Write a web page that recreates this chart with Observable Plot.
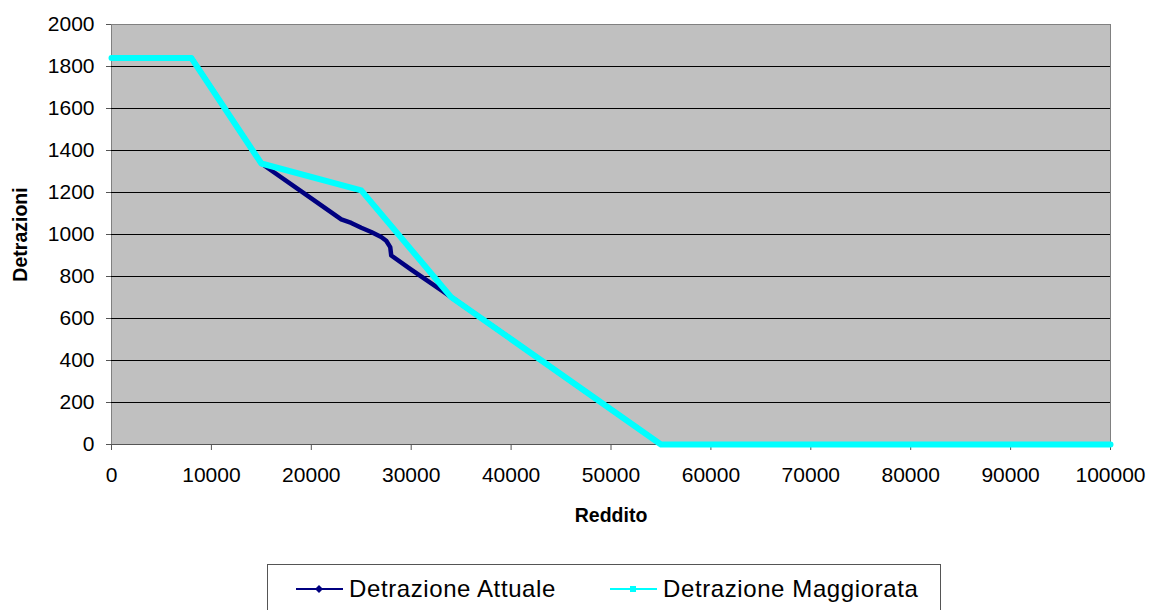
<!DOCTYPE html>
<html>
<head>
<meta charset="utf-8">
<script src="https://cdn.jsdelivr.net/npm/d3@7"></script>
<script src="https://cdn.jsdelivr.net/npm/@observablehq/plot@0.6"></script>
<style>
  body { margin: 0; background: #fff; font-family: "Liberation Sans", Arial, sans-serif; }
  #wrap { position: relative; width: 1151px; height: 610px; overflow: hidden; }
  #legend { position: absolute; left: 267px; top: 564px; width: 674px; height: 52px;
            border: 1px solid #555; box-sizing: border-box; font-size: 24px; letter-spacing: 0.6px; color: #000; }
  .item { position: absolute; top: 10px; display: flex; align-items: center; height: 28px; white-space: nowrap; }
  .item svg { margin-right: 5px; }
</style>
</head>
<body>
<div id="wrap">
  <div id="chart"></div>
  <div id="legend"></div>
</div>
<script>
// Tick values
const xTicks = [0, 10000, 20000, 30000, 40000, 50000, 60000, 70000, 80000, 90000, 100000];
const yTicks = [0, 200, 400, 600, 800, 1000, 1200, 1400, 1600, 1800, 2000];

// Series names
const seriesNames = ["Detrazione Attuale", "Detrazione Maggiorata"];

// Detrazione Attuale
const attualeX = [0, 8000, 15000, 19000, 23000, 24000, 25000, 26000, 27000, 27500, 27900, 28000, 30000, 33000, 34000, 40000, 45000, 50000, 55000, 100000];
const attualeY = [1840, 1840, 1338, 1205, 1072, 1055, 1032, 1012, 988, 970, 940, 900, 833, 735, 702, 502, 334, 167, 0, 0];

// Detrazione Maggiorata
const maggiorataX = [0, 8000, 15000, 25000, 34000, 55000, 100000];
const maggiorataY = [1840, 1840, 1338, 1210, 702, 0, 0];

const attuale = attualeX.map((x, i) => ({x, y: attualeY[i]}));
const maggiorata = maggiorataX.map((x, i) => ({x, y: maggiorataY[i]}));

const navy = "#000080", cyan = "#00FFFF";

const chart = Plot.plot({
  width: 1151,
  height: 550,
  marginLeft: 111,
  marginRight: 41,
  marginTop: 24,
  marginBottom: 106,
  style: { fontFamily: "'Liberation Sans', Arial, sans-serif", fontSize: "21px", color: "#000", background: "#fff" },
  x: { domain: [0, 100000] },
  y: { domain: [0, 2000] },
  marks: [
    Plot.frame({ fill: "#C0C0C0", stroke: "#808080" }),
    Plot.ruleY(yTicks.filter(d => d > 0 && d < 2000), { stroke: "#000", strokeWidth: 1 }),
    Plot.ruleY([0], { stroke: "#555", strokeWidth: 1 }),
    Plot.axisX({ ticks: xTicks, tickSize: 6, tickPadding: 17, tickFormat: d => String(d), label: null, stroke: "#555" }),
    Plot.axisY({ ticks: yTicks, tickSize: 5, tickPadding: 12, tickFormat: d => String(d), label: null, stroke: "#555" }),
    Plot.line(attuale, { x: "x", y: "y", stroke: navy, strokeWidth: 4.5 }),
    Plot.line(maggiorata, { x: "x", y: "y", stroke: cyan, strokeWidth: 6 }),
    Plot.text(["Reddito"], { frameAnchor: "bottom", lineAnchor: "top", dy: 63.5, fontWeight: "bold", fontSize: 19.5, text: d => d }),
    Plot.text(["Detrazioni"], { frameAnchor: "left", textAnchor: "middle", dx: -91, rotate: -90, fontWeight: "bold", fontSize: 19.5, text: d => d })
  ]
});
document.getElementById("chart").appendChild(chart);

// Legend
const legend = document.getElementById("legend");
const items = [
  { name: seriesNames[0], color: navy, marker: "diamond", left: 27 },
  { name: seriesNames[1], color: cyan, marker: "square", left: 341 }
];
for (const it of items) {
  const div = document.createElement("div");
  div.className = "item";
  div.style.left = it.left + "px";
  const m = it.marker === "diamond"
    ? `<path d="M24,10 L28,14 L24,18 L20,14 Z" fill="${it.color}"/>`
    : `<rect x="21" y="11" width="6" height="6" fill="${it.color}"/>`;
  div.innerHTML = `<svg width="49" height="28"><line x1="1" x2="48" y1="14" y2="14" stroke="${it.color}" stroke-width="2"/>${m}</svg><span>${it.name}</span>`;
  legend.appendChild(div);
}
</script>
</body>
</html>
